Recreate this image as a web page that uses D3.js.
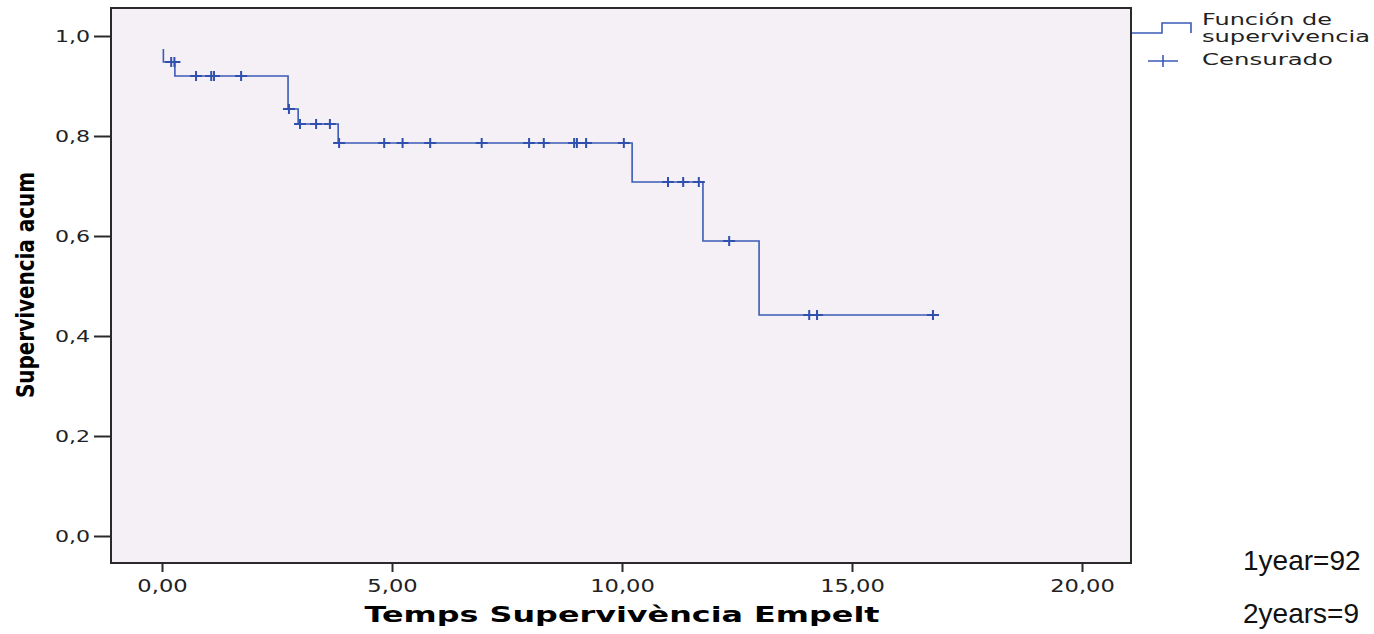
<!DOCTYPE html>
<html>
<head>
<meta charset="utf-8">
<script src="https://cdn.jsdelivr.net/npm/d3@7"></script>
<style>
  body { margin: 0; background: #fff; }
  text { font-family: "DejaVu Sans", sans-serif; }
</style>
</head>
<body>
<div id="chart"></div>
<script>
// Kaplan-Meier steps (time in years, cumulative survival)
const eventTimes = [0.03, 0.03, 0.28, 2.74, 2.96, 3.83, 10.22, 11.76, 12.98];
const survival = [0.974, 0.948, 0.920, 0.854, 0.824, 0.786, 0.708, 0.590, 0.442];
const lastTime = 16.76;

// censored cases (+ marks)
const censoredTimes = [0.20, 0.27, 0.74, 1.07, 1.13, 1.72, 2.76, 3.00, 3.35, 3.65, 3.85,
    4.83, 5.23, 5.83, 6.95, 7.98, 8.30, 8.96, 9.02, 9.22, 10.04,
    11.00, 11.33, 11.67, 12.33, 14.07, 14.24, 16.76];

const xTicks = [0, 5, 10, 15, 20];
const yTicks = [0, 0.2, 0.4, 0.6, 0.8, 1.0];

const width = 1374;
const height = 634;
const lineColor = "#3b5bb6";

const svg = d3.select("#chart")
    .append("svg")
    .attr("width", width)
    .attr("height", height);

// plot box
const box = { left: 111, top: 8, right: 1131, bottom: 563 };

const x = d3.scaleLinear().domain([0, 20]).range([162, 1082]);
const y = d3.scaleLinear().domain([0, 1]).range([536, 36]);

svg.append("rect")
    .attr("x", box.left)
    .attr("y", box.top)
    .attr("width", box.right - box.left)
    .attr("height", box.bottom - box.top)
    .attr("fill", "#f5f0f5")
    .attr("stroke", "#2a2a2a")
    .attr("stroke-width", 2);

// stretch text horizontally a bit, the source image is widened
const stretch = (sel, k) => sel.each(function () {
    const w = this.getComputedTextLength();
    d3.select(this).attr("textLength", w * k).attr("lengthAdjust", "spacingAndGlyphs");
});

const comma = (d, n) => d.toFixed(n).replace(".", ",");

// axes
const yAxis = d3.axisLeft(y)
    .tickValues(yTicks)
    .tickSize(17)
    .tickPadding(4)
    .tickFormat(d => comma(d, 1));

const gy = svg.append("g")
    .attr("transform", `translate(${box.left},0)`)
    .call(yAxis);

const xAxis = d3.axisBottom(x)
    .tickValues(xTicks)
    .tickSize(9)
    .tickPadding(8)
    .tickFormat(d => comma(d, 2));

const gx = svg.append("g")
    .attr("transform", `translate(0,${box.bottom})`)
    .call(xAxis);

[gx, gy].forEach(g => {
    g.select(".domain").remove();
    g.selectAll(".tick line").attr("stroke", "#2a2a2a").attr("stroke-width", 2);
    g.selectAll(".tick text")
        .attr("fill", "#222")
        .style("font-family", "DejaVu Sans, sans-serif");
});
gy.selectAll(".tick text").style("font-size", "16px").call(stretch, 1.38);
gx.selectAll(".tick text").style("font-size", "17px").call(stretch, 1.33);

// axis titles
svg.append("text")
    .attr("x", 622)
    .attr("y", 622)
    .attr("text-anchor", "middle")
    .style("font-size", "22px")
    .style("font-weight", "bold")
    .attr("textLength", 515)
    .attr("lengthAdjust", "spacingAndGlyphs")
    .text("Temps Supervivència Empelt");

svg.append("text")
    .attr("transform", "translate(34,285) rotate(-90)")
    .attr("text-anchor", "middle")
    .style("font-size", "25px")
    .style("font-weight", "bold")
    .attr("textLength", 226)
    .attr("lengthAdjust", "spacingAndGlyphs")
    .text("Supervivencia acum");

// survival curve
const steps = eventTimes.map((t, i) => [t, survival[i]]);
steps.push([lastTime, survival[survival.length - 1]]);

const line = d3.line()
    .x(d => x(d[0]))
    .y(d => y(d[1]))
    .curve(d3.curveStepAfter);

svg.append("path")
    .datum(steps)
    .attr("d", line)
    .attr("fill", "none")
    .attr("stroke", lineColor)
    .attr("stroke-width", 1.6);

const survAt = t => {
    let s = survival[0];
    eventTimes.forEach((e, i) => { if (e <= t) s = survival[i]; });
    return s;
};

svg.selectAll(".censor")
    .data(censoredTimes)
    .join("path")
    .attr("class", "censor")
    .attr("d", t => {
        const cx = x(t), cy = y(survAt(t));
        return `M${cx - 6},${cy}h12M${cx},${cy - 5}v10`;
    })
    .attr("stroke", "#3050ad")
    .attr("stroke-width", 2);

// legend
const legend = svg.append("g");

legend.append("path")
    .attr("d", "M1132,33H1162V23H1191V33")
    .attr("fill", "none")
    .attr("stroke", lineColor)
    .attr("stroke-width", 1.6);

legend.append("path")
    .attr("d", "M1148,61H1178M1163,55V67")
    .attr("stroke", lineColor)
    .attr("stroke-width", 1.6);

const legendText = [
    { label: "Función de", y: 25, w: 130 },
    { label: "supervivencia", y: 42, w: 168 },
    { label: "Censurado", y: 65, w: 131 }
];

legend.selectAll("text")
    .data(legendText)
    .join("text")
    .attr("x", 1202)
    .attr("y", d => d.y)
    .attr("textLength", d => d.w)
    .attr("lengthAdjust", "spacingAndGlyphs")
    .style("font-size", "16px")
    .attr("fill", "#222")
    .text(d => d.label);

// notes at bottom right
const notes = [
    { label: "1year=92", y: 570 },
    { label: "2years=9", y: 623 }
];

svg.selectAll(".note")
    .data(notes)
    .join("text")
    .attr("class", "note")
    .attr("x", 1243)
    .attr("y", d => d.y)
    .style("font-family", "Liberation Sans, Arial, sans-serif")
    .style("font-size", "28px")
    .attr("fill", "#111")
    .text(d => d.label);
</script>
</body>
</html>
